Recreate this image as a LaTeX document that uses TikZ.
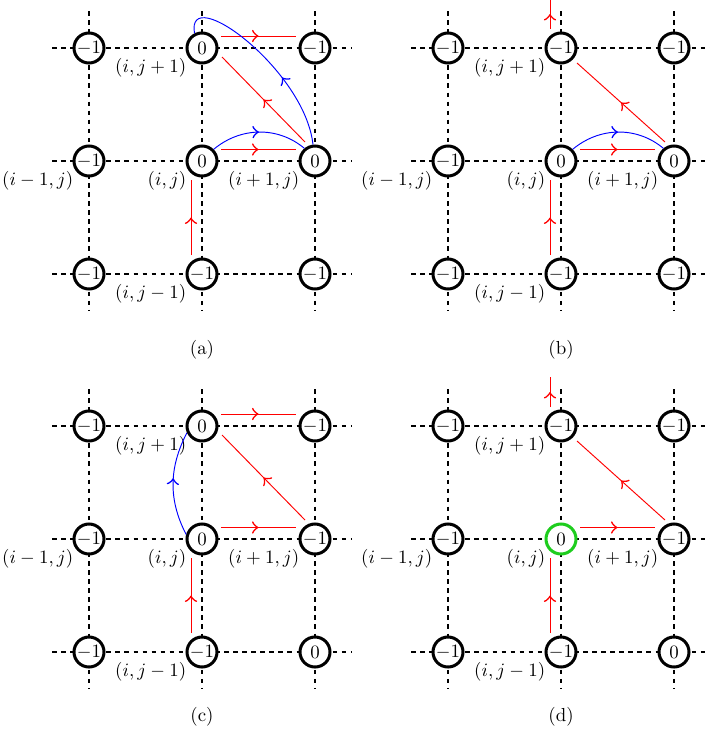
\documentclass[tikz,border=0pt]{standalone}
\usetikzlibrary{calc,decorations.markings}
\definecolor{mygreen}{RGB}{30,205,30}
\newcommand\gridpanel[4]{%
  \foreach \k in {0,1,2}{
    \coordinate (#1-hw\k) at ({#2-37},{#3+113*\k});
    \coordinate (#1-he\k) at ({#2+263},{#3+113*\k});
    \draw[gridline] (#1-hw\k) -- (#1-he\k);
    \coordinate (#1-vn\k) at ({#2+113*\k},{#3-37});
    \coordinate (#1-vs\k) at ({#2+113*\k},{#3+263});
    \draw[gridline] (#1-vn\k) -- (#1-vs\k);
  }
  \foreach \c/\r/\v/\s in {#4}{
    \node[cell,draw=\s] (#1-\c-\r) at ({#2+113*(\c-1)},{#3+113*(3-\r)}) {$\v$};
  }
  \node[lab] (#1-l23) at ($(#1-2-3)+(-15.5,10)$) {$(i,j+1)$};
  \node[lab] (#1-l12) at ($(#1-1-2)+(-15.5,10)$) {$(i-1,j)$};
  \node[lab] (#1-l22) at ($(#1-2-2)+(-15.5,10)$) {$(i,j)$};
  \node[lab] (#1-l32) at ($(#1-3-2)+(-15.5,10)$) {$(i+1,j)$};
  \node[lab] (#1-l21) at ($(#1-2-1)+(-15.5,10)$) {$(i,j-1)$};
}
\begin{document}
\begin{tikzpicture}[x=0.53pt,y=-0.53pt,
  cell/.style={circle,line width=1.6pt,fill=white,inner sep=0pt,minimum size=15.9pt},
  gridline/.style={line width=0.9pt,dash pattern=on 2.4pt off 2.4pt},
  lab/.style={anchor=north east,inner sep=0pt},
  midarrow/.style={postaction={decorate},decoration={markings,mark=at position #1 with {\arrow[scale=1.7]{>}}}},
  midarrow/.default=0.5,
  rline/.style={red,line width=0.5pt,midarrow},
  bline/.style={blue,line width=0.5pt},
  caption/.style={inner sep=0pt}]
\useasboundingbox (0,0) rectangle (709,747);

% ---------- (a)
\gridpanel{a}{89}{48}{1/3/-1/black,2/3/0/black,3/3/-1/black,1/2/-1/black,2/2/0/black,3/2/0/black,1/1/-1/black,2/1/-1/black,3/1/-1/black}
\draw[rline] ($(a-2-3)+(19,-12)$) -- ($(a-3-3)+(-19,-12)$);
\draw[rline] ($(a-2-2)+(19,-11.5)$) -- ($(a-3-2)+(-19,-11.5)$);
\draw[rline] ($(a-3-2)+(-10,-19)$) -- ($(a-2-3)+(20,9)$);
\draw[rline] ($(a-2-1)+(-11,-19)$) -- ($(a-2-2)+(-11,19)$);
\draw[bline,midarrow] (a-2-2.45) .. controls +(26.7,-22.4) and +(-26.7,-22.4) .. (a-3-2.130);
\draw[bline,midarrow=0.38] (a-3-2.97) .. controls +(-8,-75) and +(-9,-52) .. (a-2-3.117);
\node[caption] (capa) at (202,350) {(a)};

% ---------- (b)
\gridpanel{b}{448}{48}{1/3/-1/black,2/3/-1/black,3/3/-1/black,1/2/-1/black,2/2/0/black,3/2/0/black,1/1/-1/black,2/1/-1/black,3/1/-1/black}
\coordinate (b-up) at ($(b-2-3)+(-11,-49)$);
\draw[rline] ($(b-2-3)+(-11,-19)$) -- (b-up);
\draw[rline] ($(b-3-2)+(-9,-19)$) -- ($(b-2-3)+(16,15)$);
\draw[rline] ($(b-2-2)+(19,-11.5)$) -- ($(b-3-2)+(-19,-11.5)$);
\draw[rline] ($(b-2-1)+(-11,-19)$) -- ($(b-2-2)+(-11,19)$);
\draw[bline,midarrow] (b-2-2.45) .. controls +(26.7,-22.4) and +(-26.7,-22.4) .. (b-3-2.130);
\node[caption] (capb) at (561,350) {(b)};

% ---------- (c)
\gridpanel{c}{89}{426}{1/3/-1/black,2/3/0/black,3/3/-1/black,1/2/-1/black,2/2/0/black,3/2/-1/black,1/1/-1/black,2/1/-1/black,3/1/0/black}
\draw[rline] ($(c-2-3)+(19,-12)$) -- ($(c-3-3)+(-19,-12)$);
\draw[rline] ($(c-2-2)+(19,-11.5)$) -- ($(c-3-2)+(-19,-11.5)$);
\draw[rline] ($(c-3-2)+(-10,-19)$) -- ($(c-2-3)+(20,9)$);
\draw[rline] ($(c-2-1)+(-11,-19)$) -- ($(c-2-2)+(-11,19)$);
\draw[bline,midarrow=0.55] (c-2-2.164) .. controls +(-18,-35) and +(-18,35) .. (c-2-3.204);
\node[caption] (capc) at (202,717) {(c)};

% ---------- (d)
\gridpanel{d}{448}{426}{1/3/-1/black,2/3/-1/black,3/3/-1/black,1/2/-1/black,2/2/0/mygreen,3/2/-1/black,1/1/-1/black,2/1/-1/black,3/1/0/black}
\coordinate (d-up) at ($(d-2-3)+(-11,-49)$);
\draw[rline] ($(d-2-3)+(-11,-19)$) -- (d-up);
\draw[rline] ($(d-3-2)+(-9,-19)$) -- ($(d-2-3)+(16,15)$);
\draw[rline] ($(d-2-2)+(19,-11.5)$) -- ($(d-3-2)+(-19,-11.5)$);
\draw[rline] ($(d-2-1)+(-11,-19)$) -- ($(d-2-2)+(-11,19)$);
\node[caption] (capd) at (561,717) {(d)};
\end{tikzpicture}
\end{document}
